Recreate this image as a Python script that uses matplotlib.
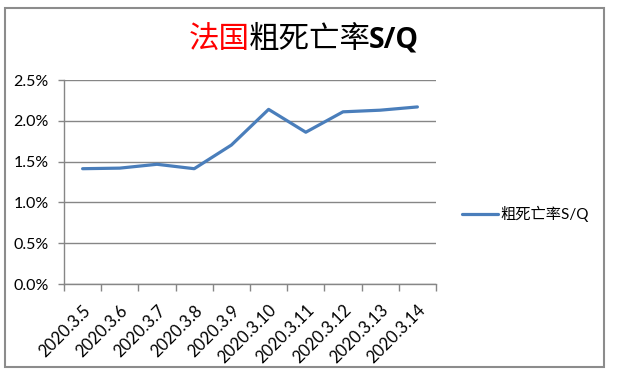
import matplotlib
matplotlib.use("Agg")
import matplotlib.pyplot as plt
from matplotlib.patches import Rectangle
from matplotlib.ticker import FuncFormatter, MultipleLocator, FixedLocator

categories = ["2020.3.5", "2020.3.6", "2020.3.7", "2020.3.8", "2020.3.9",
              "2020.3.10", "2020.3.11", "2020.3.12", "2020.3.13", "2020.3.14"]
rate = [0.01413, 0.01420, 0.01467, 0.01413, 0.01703,
        0.02140, 0.01860, 0.02110, 0.02130, 0.02170]
series_name = "粗死亡率S/Q"
title_red = "法国"
title_black = "粗死亡率"
title_bold = "S/Q"

W, H = 621, 385
fig = plt.figure(figsize=(W / 100, H / 100), dpi=100)
fig.patch.set_facecolor("white")
fams = ["Lato", "Noto Sans CJK SC", "DejaVu Sans"]
plt.rcParams["font.family"] = fams

# outer chart border
fig.add_artist(Rectangle((5 / W, 1 - 367 / H), (604 - 5) / W, (367 - 8) / H,
                         transform=fig.transFigure, fill=False,
                         edgecolor="#8c8c8c", linewidth=1.5))

ax = fig.add_axes([64 / W, 1 - 284 / H, (436 - 64) / W, (284 - 80) / H])
x = list(range(len(categories)))
ax.plot(x, rate, color="#4a7ebb", linewidth=2.3, solid_capstyle="round",
        label=series_name)
ax.set_xlim(-0.5, len(categories) - 0.5)
ax.set_ylim(0, 0.025)
ax.yaxis.set_major_locator(MultipleLocator(0.005))
ax.yaxis.set_major_formatter(FuncFormatter(lambda v, p: f"{v*100:.1f}%"))
ax.grid(axis="y", color="#868686", linewidth=1)
ax.set_axisbelow(True)
for s in ["top", "right"]:
    ax.spines[s].set_visible(False)
for s in ["left", "bottom"]:
    ax.spines[s].set_color("#868686")
    ax.spines[s].set_linewidth(1)

ax.set_xticks(x)
ax.set_xticklabels(categories, rotation=45, ha="right", va="top",
                   rotation_mode="anchor", fontsize=12, color="#000000")
ax.tick_params(axis="x", which="major", length=0, pad=13)
ax.xaxis.set_minor_locator(FixedLocator([i - 0.5 for i in range(len(categories) + 1)]))
ax.tick_params(axis="x", which="minor", length=5, color="#868686", width=1)
ax.tick_params(axis="y", length=4, color="#868686", width=1, labelsize=11.5,
               pad=7)

# title in three parts
fig.canvas.draw()
r = fig.canvas.get_renderer()
ty = 1 - 40 / H
t1 = fig.text(0, ty, title_red, color="#ff0000", fontsize=22,
              family=["Noto Sans CJK SC"], va="center")
t2 = fig.text(0, ty, title_black, color="#000000", fontsize=22,
              family=["Noto Sans CJK SC"], va="center")
t3 = fig.text(0, ty, title_bold, color="#000000", fontsize=20.5,
              family=["Open Sans"], weight="bold", va="center")
w1 = t1.get_window_extent(r).width
w2 = t2.get_window_extent(r).width
x0 = 189
t1.set_x(x0 / W)
t2.set_x((x0 + w1 - 1) / W)
t3.set_x((x0 + w1 + w2 - 3) / W)

fig.legend(loc="center left", bbox_to_anchor=(448 / W, 1 - 214 / H),
           frameon=False, handlelength=2.4, handletextpad=0.15,
           prop={"family": ["Lato", "Noto Sans CJK SC"], "size": 11})

fig.savefig("out.png", dpi=100, facecolor="white")
